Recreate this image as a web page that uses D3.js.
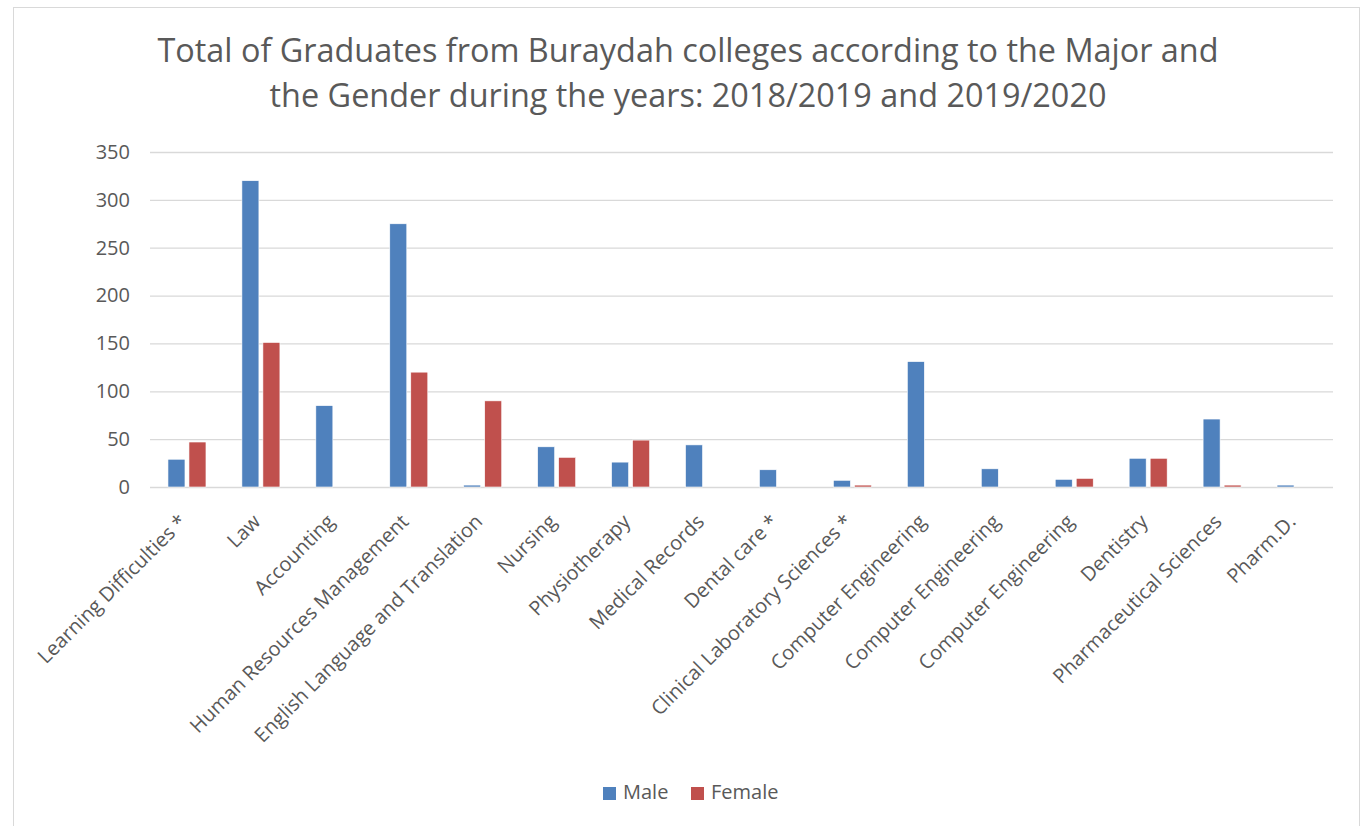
<!DOCTYPE html>
<html>
<head>
<meta charset="utf-8">
<script src="https://cdn.jsdelivr.net/npm/d3@7"></script>
<style>
  body { margin: 0; background: #fff; }
  text { font-family: "Open Sans", sans-serif; fill: #595959; }
</style>
</head>
<body>
<div id="container"></div>
<script>
const majors = ["Learning Difficulties *", "Law", "Accounting", "Human Resources Management",
  "English Language and Translation", "Nursing", "Physiotherapy", "Medical Records", "Dental care *",
  "Clinical Laboratory Sciences *", "Computer Engineering", "Computer Engineering", "Computer Engineering",
  "Dentistry", "Pharmaceutical Sciences", "Pharm.D."];
const male = [29, 320, 85, 275, 2, 42, 26, 44, 18, 7, 131, 19, 8, 30, 71, 2];
const female = [47, 151, 0, 120, 90, 31, 49, 0, 0, 2, 0, 0, 9, 30, 2, 0];
const yTicks = [0, 50, 100, 150, 200, 250, 300, 350];
const series = ["Male", "Female"];
const colors = ["#4f81bd", "#c0504d"];
const titleLines = ["Total of Graduates from Buraydah colleges according to the Major and",
  "the Gender during the years: 2018/2019 and 2019/2020"];

const w = 1361;
const h = 826;
const plot = { left: 150, right: 1333, top: 152, bottom: 487 };

const svg = d3.select("#container")
  .append("svg")
  .attr("width", w)
  .attr("height", h);

//chart border
svg.append("rect")
  .attr("x", 13.5).attr("y", 7.5)
  .attr("width", 1346).attr("height", 830)
  .attr("fill", "none")
  .attr("stroke", "#d9d9d9")
  .attr("stroke-width", 1);

//title
svg.append("g")
  .selectAll("text")
  .data(titleLines)
  .enter()
  .append("text")
  .attr("x", 688)
  .attr("y", (d, i) => 62 + i * 45)
  .attr("text-anchor", "middle")
  .style("font-size", "32.4px")
  .text(d => d);

//scales
const x = d3.scaleBand()
  .domain(d3.range(majors.length))
  .range([plot.left, plot.right]);

const bw = x.bandwidth();
const xSub = d3.scaleBand()
  .domain(series)
  .range([bw / 2 - 19, bw / 2 + 19])
  .paddingInner(4 / 21);

const y = d3.scaleLinear()
  .domain([0, 350])
  .range([plot.bottom, plot.top]);

//gridlines + y labels
const yAxis = d3.axisLeft(y)
  .tickValues(yTicks)
  .tickSize(-(plot.right - plot.left))
  .tickPadding(20);

const yg = svg.append("g")
  .attr("transform", `translate(${plot.left},0)`)
  .call(yAxis);
yg.select(".domain").remove();
yg.selectAll("line").attr("stroke", "#d9d9d9").attr("stroke-width", 1.3);
yg.selectAll("text")
  .style("font-size", "20px")
  .style("font-family", "'Open Sans', sans-serif")
  .attr("fill", "#595959");

//bars
const rows = majors.map((m, i) => ({ i, vals: [male[i], female[i]] }));
const groups = svg.append("g")
  .selectAll("g")
  .data(rows)
  .enter()
  .append("g")
  .attr("transform", d => `translate(${x(d.i)},0)`);

groups.selectAll("rect")
  .data(d => d.vals.map((v, k) => ({ key: series[k], v, k })).filter(o => o.v > 0))
  .enter()
  .append("rect")
  .attr("x", d => xSub(d.key))
  .attr("y", d => y(d.v))
  .attr("width", xSub.bandwidth())
  .attr("height", d => y(0) - y(d.v))
  .attr("fill", d => colors[d.k])
  .attr("stroke", "#fff")
  .attr("stroke-width", 0.6);

//x labels
svg.append("g")
  .selectAll("text")
  .data(majors)
  .enter()
  .append("text")
  .attr("text-anchor", "end")
  .attr("transform", (d, i) => `translate(${x(i) + bw / 2 - 9},${plot.bottom + 26}) rotate(-45)`)
  .attr("dy", "0.7em")
  .style("font-size", "20px")
  .text(d => d);

//legend
const legend = svg.append("g")
  .attr("transform", "translate(603,787)");
const items = legend.selectAll("g")
  .data(series)
  .enter()
  .append("g")
  .attr("transform", (d, i) => `translate(${i * 88},0)`);
items.append("rect")
  .attr("width", 13).attr("height", 13)
  .attr("fill", (d, i) => colors[i]);
items.append("text")
  .attr("x", 20)
  .attr("y", 12)
  .style("font-size", "20px")
  .text(d => d);
</script>
</body>
</html>
